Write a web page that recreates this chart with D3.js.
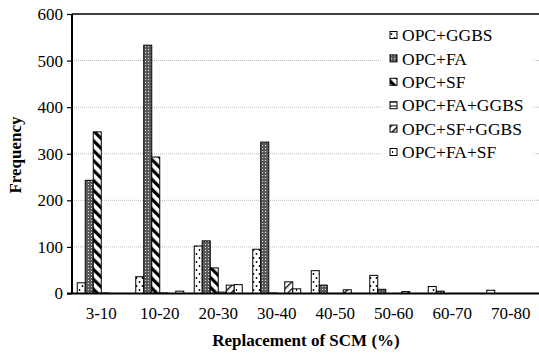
<!DOCTYPE html>
<html><head><meta charset="utf-8">
<script src="https://cdn.jsdelivr.net/npm/d3@7"></script>
<style>body{margin:0;background:#fff}svg{display:block}svg text{font-family:'Liberation Serif','Times New Roman',serif}</style>
</head><body>
<svg id="c" width="539" height="360"></svg>
<script>
const categories = ["3-10","10-20","20-30","30-40","40-50","50-60","60-70","70-80"];
const seriesNames = ["OPC+GGBS","OPC+FA","OPC+SF","OPC+FA+GGBS","OPC+SF+GGBS","OPC+FA+SF"];
const ggbs   = [23, 36, 102, 95, 49, 39, 15, 7];
const fa     = [243, 533, 113, 325, 18, 9, 5, 0];
const sf     = [347, 293, 55, 1, 0, 0, 0, 0];
const faGgbs = [1, 1, 3, 0, 0, 0, 0, 0];
const sfGgbs = [0, 0, 18, 25, 8, 4, 0, 0];
const faSf   = [0, 5, 19, 10, 0, 0, 0, 0];
const yTicks = [0, 100, 200, 300, 400, 500, 600];
const seriesValues = [ggbs, fa, sf, faGgbs, sfGgbs, faSf];

const svg = d3.select("#c");
const m = {l:72, r:539, t:14, b:293.5};
const font = "'Liberation Serif', 'Times New Roman', serif";

const defs = svg.append("defs");
function pat(id, w, h, draw, transform) {
  const p = defs.append("pattern").attr("id", id).attr("patternUnits","userSpaceOnUse")
    .attr("width", w).attr("height", h);
  if (transform) p.attr("patternTransform", transform);
  p.append("rect").attr("width", w).attr("height", h).attr("fill", "#fff");
  draw(p);
}
pat("p0", 6, 8, p => {
  p.append("circle").attr("cx",1.5).attr("cy",2).attr("r",0.9).attr("fill","#000");
  p.append("circle").attr("cx",4.5).attr("cy",6).attr("r",0.9).attr("fill","#000");
});
pat("p1", 3, 3, p => {
  p.append("rect").attr("width",3).attr("height",3).attr("fill","#5a5a5a");
  p.append("rect").attr("x",1).attr("y",1).attr("width",1).attr("height",1).attr("fill","#e0e0e0");
});
pat("p2", 7, 7, p => {
  p.append("rect").attr("x",0).attr("width",3.2).attr("height",7).attr("fill","#000");
}, "rotate(-45)");
pat("p3", 4, 4, p => {
  p.append("rect").attr("y",1.5).attr("width",4).attr("height",1).attr("fill","#000");
});
pat("p4", 5, 5, p => {
  p.append("rect").attr("x",0).attr("width",1.3).attr("height",5).attr("fill","#000");
}, "rotate(45)");
pat("p5", 6, 6, p => {
  p.append("rect").attr("x",2).attr("y",1).attr("width",1).attr("height",2).attr("fill","#000");
});

const x = d3.scaleBand().domain(categories).range([m.l, 540]).paddingInner(0).paddingOuter(0);
const xs = d3.scaleBand().domain(seriesNames).range([0, 48]);
const y = d3.scaleLinear().domain([0, 600]).range([m.b, m.t]);

svg.append("g").selectAll("line").data(yTicks.filter(t => t > 0 && t < 600)).join("line")
  .attr("x1", m.l).attr("x2", m.r).attr("y1", d => y(d)).attr("y2", d => y(d))
  .attr("stroke", "#bbb").attr("stroke-width", 1).attr("stroke-dasharray", "1,1");

svg.append("line").attr("x1", m.l).attr("x2", m.r).attr("y1", y(600)).attr("y2", y(600))
  .attr("stroke", "#000").attr("stroke-width", 1.5);

const off = (x.bandwidth() - 48) / 2;
seriesNames.forEach((s, si) => {
  svg.append("g").selectAll("rect").data(seriesValues[si].map((v, i) => ({c: categories[i], v})))
    .join("rect")
    .filter(d => d.v > 0)
    .attr("x", d => x(d.c) + off + xs(s))
    .attr("width", xs.bandwidth())
    .attr("y", d => y(d.v))
    .attr("height", d => y(0) - y(d.v))
    .attr("fill", `url(#p${si})`)
    .attr("stroke", "#000").attr("stroke-width", 1);
});

const ya = svg.append("g").attr("transform", `translate(${m.l},0)`)
  .call(d3.axisLeft(y).tickValues(yTicks).tickSize(5).tickPadding(4).tickFormat(d3.format("d")));
ya.attr("font-family", null);
ya.select(".domain").attr("stroke-width", 2).attr("d", `M0,${m.t}V${m.b}`);
ya.selectAll(".tick line").attr("stroke-width", 1.2);
ya.selectAll("text").style("font-family", font).attr("font-size", 17).attr("fill", "#000");

const xa = svg.append("g").attr("transform", `translate(0,${m.b})`)
  .call(d3.axisBottom(x).tickSize(0).tickPadding(13));
xa.attr("font-family", null);
xa.select(".domain").attr("stroke-width", 2.2).attr("d", `M${m.l - 5},0H${m.r}`);
xa.selectAll("text").style("font-family", font).attr("font-size", 17).attr("fill", "#000");

svg.append("text").attr("x", 306).attr("y", 346).attr("text-anchor", "middle")
  .style("font-family", font).attr("font-size", 17).attr("font-weight", "bold").text("Replacement of SCM (%)");
svg.append("text").attr("transform", "translate(21,155) rotate(-90)").attr("text-anchor", "middle")
  .style("font-family", font).attr("font-size", 17).attr("font-weight", "bold").text("Frequency");

const lg = svg.append("g");
lg.append("rect").attr("x", 382).attr("y", 21).attr("width", 152).attr("height", 145).attr("fill", "#fff");
seriesNames.forEach((s, i) => {
  const cy = 35 + i * 23.4;
  lg.append("rect").attr("x", 390).attr("y", cy - 3.5).attr("width", 7).attr("height", 7)
    .attr("fill", `url(#p${i})`).attr("stroke", "#000").attr("stroke-width", 1);
  lg.append("text").attr("x", 402).attr("y", cy).attr("dy", "0.35em")
    .style("font-family", font).attr("font-size", 17.5).text(s);
});
</script>
</body></html>
